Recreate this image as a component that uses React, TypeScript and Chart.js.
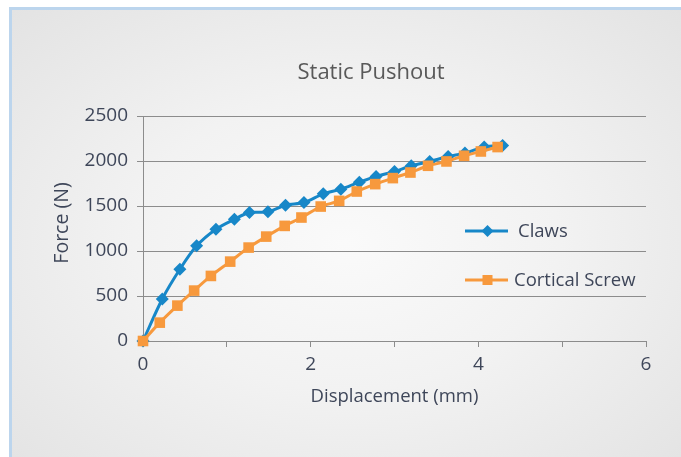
import React, { useEffect, useRef } from 'react';
import { Chart, registerables } from 'chart.js';

Chart.register(...registerables);

// Data
const clawsX = [0, 0.23, 0.44, 0.64, 0.87, 1.09, 1.27, 1.49, 1.7, 1.92, 2.15, 2.36, 2.58, 2.78, 3.0, 3.2, 3.42, 3.64, 3.84, 4.07, 4.29];
const clawsY = [0, 467, 797, 1057, 1242, 1353, 1427, 1435, 1509, 1539, 1635, 1687, 1765, 1828, 1883, 1947, 1995, 2050, 2088, 2155, 2172];
const screwX = [0, 0.2, 0.41, 0.61, 0.81, 1.04, 1.26, 1.47, 1.69, 1.89, 2.12, 2.34, 2.55, 2.77, 2.98, 3.19, 3.4, 3.62, 3.83, 4.03, 4.23];
const screwY = [0, 204, 393, 560, 723, 882, 1038, 1160, 1279, 1372, 1494, 1557, 1661, 1743, 1810, 1872, 1947, 1995, 2058, 2106, 2155];

const seriesNames = ['Claws', 'Cortical Screw'];
const chartTitle = 'Static Pushout';
const xTitle = 'Displacement (mm)';
const yTitle = 'Force (N)';
const xLabels = [0, 2, 4, 6];

const BLUE = '#1787C8';
const ORANGE = '#F7993D';
const FONT = "'Open Sans', 'Noto Sans', sans-serif";
const TEXT = '#3E4659';
const GRID = '#8C8C8C';

const titlePlugin = {
  id: 'customTitle',
  afterDraw(chart: any) {
    const ctx = chart.ctx as CanvasRenderingContext2D;
    ctx.save();
    ctx.fillStyle = '#595959';
    ctx.font = `22px ${FONT}`;
    ctx.textAlign = 'center';
    ctx.textBaseline = 'middle';
    ctx.fillText(chartTitle, 359, 63);
    // rotated y-axis title
    ctx.fillStyle = TEXT;
    ctx.font = `19.5px ${FONT}`;
    ctx.translate(50, 213);
    ctx.rotate(-Math.PI / 2);
    ctx.fillText(yTitle, 0, 0);
    ctx.restore();
  },
};

const legendPlugin = {
  id: 'customLegend',
  afterDraw(chart: any) {
    const ctx = chart.ctx as CanvasRenderingContext2D;
    const items = [
      { name: seriesNames[0], color: BLUE, style: 'diamond', y: 221, tx: 506 },
      { name: seriesNames[1], color: ORANGE, style: 'square', y: 270, tx: 502 },
    ];
    ctx.save();
    for (const it of items) {
      ctx.strokeStyle = it.color;
      ctx.fillStyle = it.color;
      ctx.lineWidth = 3;
      ctx.beginPath();
      ctx.moveTo(453, it.y);
      ctx.lineTo(496, it.y);
      ctx.stroke();
      const cx = 475.5;
      ctx.beginPath();
      if (it.style === 'diamond') {
        const r = 6;
        ctx.moveTo(cx, it.y - r);
        ctx.lineTo(cx + r, it.y);
        ctx.lineTo(cx, it.y + r);
        ctx.lineTo(cx - r, it.y);
        ctx.closePath();
      } else {
        const h = 5;
        ctx.rect(cx - h, it.y - h, 2 * h, 2 * h);
      }
      ctx.fill();
      ctx.fillStyle = TEXT;
      ctx.font = `18.5px ${FONT}`;
      ctx.textAlign = 'left';
      ctx.textBaseline = 'middle';
      ctx.fillText(it.name, it.tx, it.y + 1);
    }
    ctx.restore();
  },
};

export default function App() {
  const canvasRef = useRef<HTMLCanvasElement | null>(null);

  useEffect(() => {
    if (!canvasRef.current) return;
    const chart = new Chart(canvasRef.current, {
      type: 'line',
      data: {
        datasets: [
          {
            label: seriesNames[0],
            data: clawsX.map((x, i) => ({ x, y: clawsY[i] })),
            borderColor: BLUE,
            backgroundColor: BLUE,
            borderWidth: 3,
            pointStyle: 'rectRot',
            pointRadius: 6.5,
            pointBorderWidth: 0,
            tension: 0.3,
            clip: false,
            order: 1,
          },
          {
            label: seriesNames[1],
            data: screwX.map((x, i) => ({ x, y: screwY[i] })),
            borderColor: ORANGE,
            backgroundColor: ORANGE,
            borderWidth: 3,
            pointStyle: 'rect',
            pointRadius: 7.5,
            pointBorderWidth: 0,
            tension: 0.3,
            clip: false,
            order: 0,
          },
        ],
      },
      options: {
        responsive: false,
        animation: false,
        devicePixelRatio: 1,
        layout: { padding: { left: 0, right: 35, top: 106, bottom: 0 } },
        plugins: {
          legend: { display: false },
          tooltip: { enabled: false },
          title: { display: false },
        },
        scales: {
          x: {
            type: 'linear',
            min: 0,
            max: 6,
            afterFit: (s: any) => { s.height = 116; },
            ticks: {
              stepSize: 1,
              color: TEXT,
              font: { family: FONT, size: 19 },
              padding: 6,
              maxRotation: 0,
              callback: (v: any) => (xLabels.includes(Number(v)) ? String(v) : ''),
            },
            grid: { drawOnChartArea: false, drawTicks: true, tickLength: 6, color: GRID },
            border: { display: true, color: GRID, width: 1 },
            title: {
              display: true,
              text: xTitle,
              color: TEXT,
              font: { family: FONT, size: 18.5, lineHeight: 1.2 },
              padding: { top: 0, bottom: 49 },
            },
          },
          y: {
            min: 0,
            max: 2500,
            afterFit: (s: any) => { s.width = 131; },
            ticks: {
              stepSize: 500,
              color: TEXT,
              font: { family: FONT, size: 19 },
              padding: 9,
              callback: (v: any) => String(v),
            },
            grid: { drawTicks: true, tickLength: 6, color: GRID },
            border: { display: true, color: GRID, width: 1 },
            title: { display: false },
          },
        },
      },
      plugins: [titlePlugin, legendPlugin],
    } as any);
    return () => chart.destroy();
  }, []);

  return (
    <div
      style={{
        position: 'fixed',
        left: 9,
        top: 7,
        width: 672,
        height: 450,
        boxSizing: 'border-box',
        borderTop: '3px solid #BCD5ED',
        borderLeft: '3px solid #BCD5ED',
        background: 'radial-gradient(ellipse at 50% 52%, #fafafa 0%, #f2f2f2 45%, #e3e3e3 100%)',
        overflow: 'hidden',
      }}
    >
      <canvas ref={canvasRef} width={669} height={447} style={{ display: 'block' }} />
    </div>
  );
}
